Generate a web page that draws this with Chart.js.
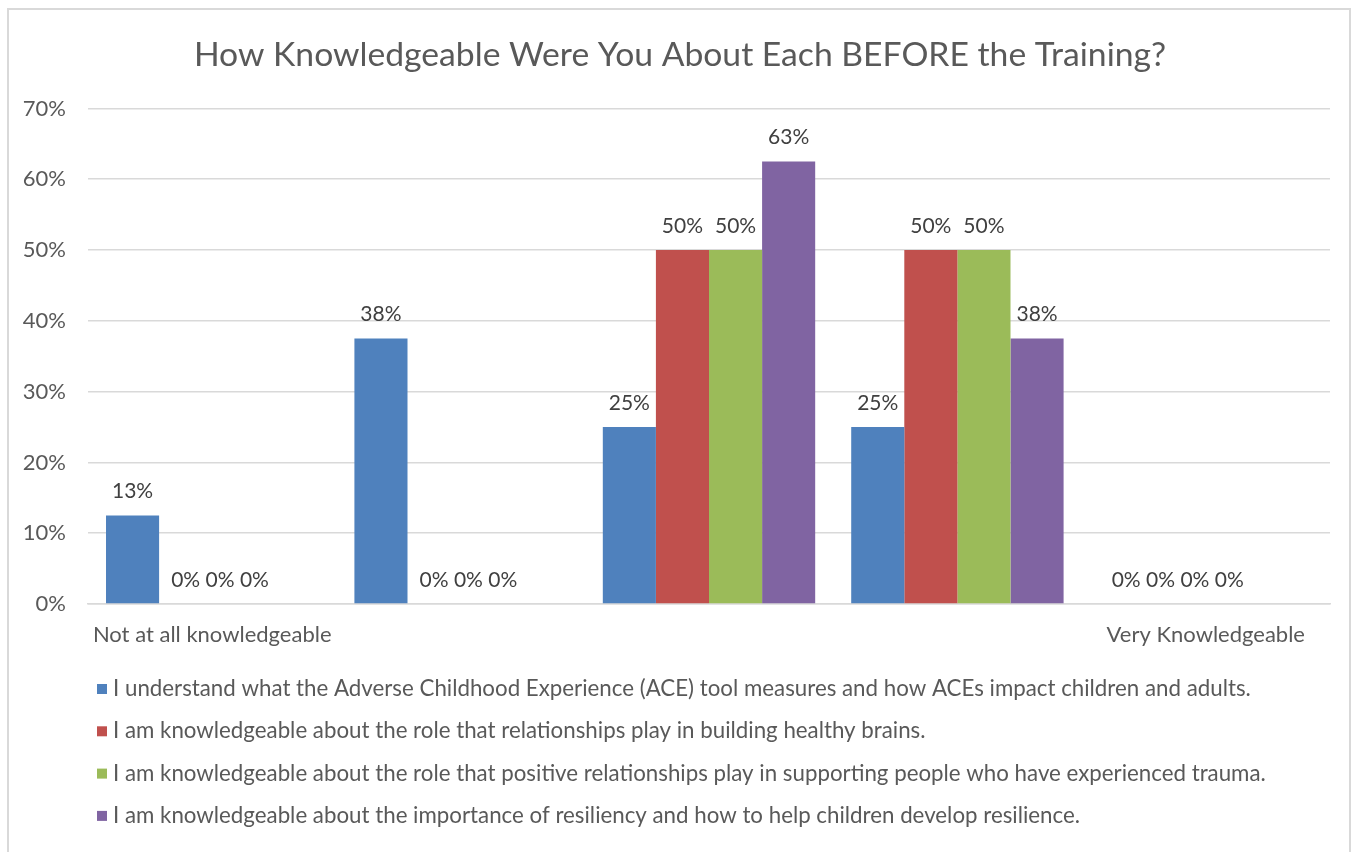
<!DOCTYPE html>
<html>
<head>
<meta charset="utf-8">
<script src="https://cdn.jsdelivr.net/npm/chart.js@4"></script>
<style>
  html, body { margin: 0; padding: 0; background: #ffffff; }
  #wrap { position: relative; width: 1360px; height: 852px; overflow: hidden; }
  #frame { position: absolute; left: 7px; top: 8px; width: 1344px; height: 900px; border: 2px solid #d9d9d9; box-sizing: border-box; pointer-events: none; }
  canvas { position: absolute; left: 0; top: 0; }
</style>
</head>
<body>
<div id="wrap">
  <canvas id="c" width="1360" height="852"></canvas>
  <div id="frame"></div>
</div>
<script>
const titleText = 'How Knowledgeable Were You About Each BEFORE the Training?';
const categories = ['Not at all knowledgeable', '', '', '', 'Very Knowledgeable'];
const seriesNames = [
  'I understand what the Adverse Childhood Experience (ACE) tool measures and how ACEs impact children and adults.',
  'I am knowledgeable about the role that relationships play in building healthy brains.',
  'I am knowledgeable about the role that positive relationships play in supporting people who have experienced trauma.',
  'I am knowledgeable about the importance of resiliency and how to help children develop resilience.'
];
const aceValues = [12.5, 37.5, 25, 25, 0];
const brainValues = [0, 0, 50, 50, 0];
const traumaValues = [0, 0, 50, 50, 0];
const resilienceValues = [0, 0, 62.5, 37.5, 0];
const seriesColors = ['#4f81bd', '#c0504d', '#9bbb59', '#8064a2'];
const yTicks = [0, 10, 20, 30, 40, 50, 60, 70];

const FONT = 'Lato';
const TEXT = '#595959';

const dataLabelPlugin = {
  id: 'dataLabels',
  afterDatasetsDraw(chart) {
    const ctx = chart.ctx;
    ctx.save();
    ctx.font = '21px ' + FONT;
    ctx.fillStyle = '#404040';
    ctx.textAlign = 'center';
    ctx.textBaseline = 'middle';
    const space = ctx.measureText(' ').width;
    const n = chart.data.labels.length;
    for (let i = 0; i < n; i++) {
      let cursor = null;
      chart.data.datasets.forEach((ds, d) => {
        const el = chart.getDatasetMeta(d).data[i];
        const v = ds.data[i];
        const txt = Math.round(v) + '%';
        const w = ctx.measureText(txt).width;
        let x = el.x;
        if (v === 0) {
          // zero-height bars: labels are packed side by side
          if (cursor === null) cursor = el.x - w / 2;
          x = cursor + w / 2;
          cursor = cursor + w + space;
        } else {
          cursor = null;
        }
        ctx.fillText(txt, x, el.y - 24);
      });
    }
    ctx.restore();
  }
};

const legendPlugin = {
  id: 'bottomLegend',
  afterDraw(chart) {
    const ctx = chart.ctx;
    ctx.save();
    ctx.font = '22.3px ' + FONT;
    ctx.textAlign = 'left';
    ctx.textBaseline = 'middle';
    const top = chart.chartArea.bottom + 85;
    chart.data.datasets.forEach((ds, d) => {
      const y = top + d * 42.3;
      ctx.fillStyle = ds.backgroundColor;
      ctx.fillRect(97, y - 5, 10, 10);
      ctx.fillStyle = TEXT;
      ctx.fillText(ds.label, 113, y);
    });
    ctx.restore();
  }
};

const datasets = [aceValues, brainValues, traumaValues, resilienceValues].map((vals, k) => ({
  label: seriesNames[k],
  data: vals,
  backgroundColor: seriesColors[k],
  borderWidth: 0,
  categoryPercentage: 0.855,
  barPercentage: 1.0
}));

new Chart(document.getElementById('c'), {
  type: 'bar',
  data: { labels: categories, datasets },
  options: {
    responsive: false,
    animation: false,
    layout: { padding: { left: 0, right: 0, top: 0, bottom: 196 } },
    plugins: {
      legend: { display: false },
      tooltip: { enabled: false },
      title: {
        display: true,
        text: titleText,
        color: TEXT,
        font: { family: FONT, size: 33.7, weight: 'normal', lineHeight: 1.2 },
        padding: { top: 35, bottom: 33 }
      }
    },
    scales: {
      x: {
        grid: { display: false, drawTicks: false },
        border: { display: true, color: '#d9d9d9', width: 1.5 },
        ticks: { color: TEXT, font: { family: FONT, size: 22 }, padding: 18, maxRotation: 0, autoSkip: false },
        afterFit(scale) { scale.height = 52; }
      },
      y: {
        min: 0, max: 70,
        afterBuildTicks(scale) { scale.ticks = yTicks.map(v => ({ value: v })); },
        grid: { color: '#d9d9d9', lineWidth: 1.5, drawTicks: false },
        border: { display: false },
        ticks: { color: TEXT, font: { family: FONT, size: 22 }, padding: 22, callback: v => v + '%' },
        afterFit(scale) { scale.width = 88; }
      },
      yRightSpace: {
        type: 'linear',
        position: 'right',
        min: 0, max: 70,
        grid: { display: false, drawTicks: false },
        border: { display: false },
        ticks: { display: false },
        afterFit(scale) { scale.width = 30; }
      }
    }
  },
  plugins: [dataLabelPlugin, legendPlugin]
});
</script>
</body>
</html>
